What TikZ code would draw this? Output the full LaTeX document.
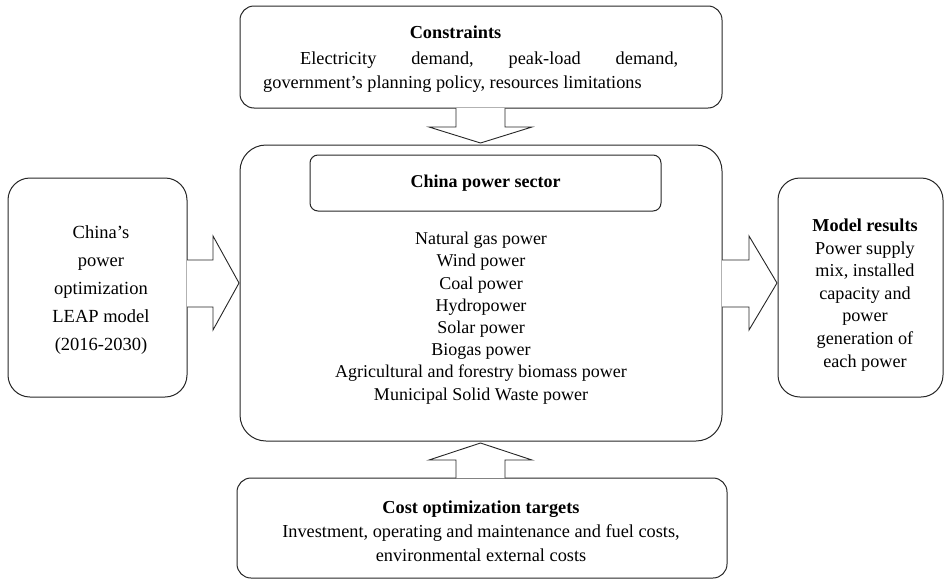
\documentclass[tikz,border=0pt]{standalone}
\usepackage{fontspec}
\setmainfont{Liberation Serif}
\begin{document}
\begin{tikzpicture}[x=1pt,y=-1pt,
  box/.style={draw=black!85, line width=1pt, rectangle, inner sep=0pt},
  blockarrow/.style={draw=black!85, line width=0.9pt, fill=white, line join=miter},
  txt/.style={inner sep=0pt, align=center}]
\useasboundingbox (0,0) rectangle (945,581);
% boxes
\node[box, rounded corners=14pt, minimum width=482pt, minimum height=102pt] (cons) at (481,57) {};
\node[box, rounded corners=26pt, minimum width=482pt, minimum height=296pt] (sector) at (481,293) {};
\node[box, rounded corners=8pt, minimum width=351pt, minimum height=56pt] (inner) at (485.5,183) {};
\node[box, rounded corners=22pt, minimum width=179pt, minimum height=219pt] (leap) at (97.5,287.5) {};
\node[box, rounded corners=22pt, minimum width=165pt, minimum height=219pt] (results) at (860.5,287.5) {};
\node[box, rounded corners=14pt, minimum width=490pt, minimum height=100pt] (cost) at (482,528) {};
% block arrows
\draw[blockarrow] (456,108) -- (456,127) -- (429,127) -- (480.5,143) -- (532,127) -- (505,127) -- (505,108);
\draw[blockarrow] (456,478) -- (456,460) -- (429,460) -- (480.5,443) -- (532,460) -- (505,460) -- (505,478);
\draw[blockarrow] (187,260) -- (213,260) -- (213,236) -- (239,283) -- (213,330) -- (213,307) -- (187,307);
\draw[blockarrow] (722,260) -- (749,260) -- (749,236) -- (777,283) -- (749,330) -- (749,307) -- (722,307);
% texts
\node[txt, font=\fontsize{18.3}{22}\selectfont\bfseries] (constitle) at (455.5,32) {Constraints};
\node[inner sep=0pt, anchor=base west, font=\fontsize{18.3}{22}\selectfont] (consl2) at (300,64) {\makebox[378pt][s]{Electricity\hfill demand,\hfill peak-load\hfill demand,}};
\node[inner sep=0pt, anchor=base west, font=\fontsize{18.3}{22}\selectfont] (consl3) at (263,88) {government’s planning policy, resources limitations};
\node[txt, font=\fontsize{18}{23}\selectfont\bfseries] (innertxt) at (485.5,183) {China power sector};
\node[txt, font=\fontsize{18}{22.2}\selectfont] (list) at (481,318) {Natural gas power\\ Wind power\\ Coal power\\ Hydropower\\ Solar power\\ Biogas power\\ Agricultural and forestry biomass power\\ Municipal Solid Waste power};
\node[txt, font=\fontsize{18.5}{28}\selectfont] (leaptxt) at (101,290) {China’s\\ power\\ optimization\\ LEAP model\\ (2016-2030)};
\node[txt, font=\fontsize{18.2}{22.6}\selectfont] (restxt) at (865,295) {\textbf{Model results}\\ Power supply\\ mix, installed\\ capacity and\\ power\\ generation of\\ each power};
\node[txt, font=\fontsize{18.3}{24}\selectfont] (costtxt) at (481,531) {\textbf{Cost optimization targets}\\ Investment, operating and maintenance and fuel costs,\\ environmental external costs};
\end{tikzpicture}
\end{document}
